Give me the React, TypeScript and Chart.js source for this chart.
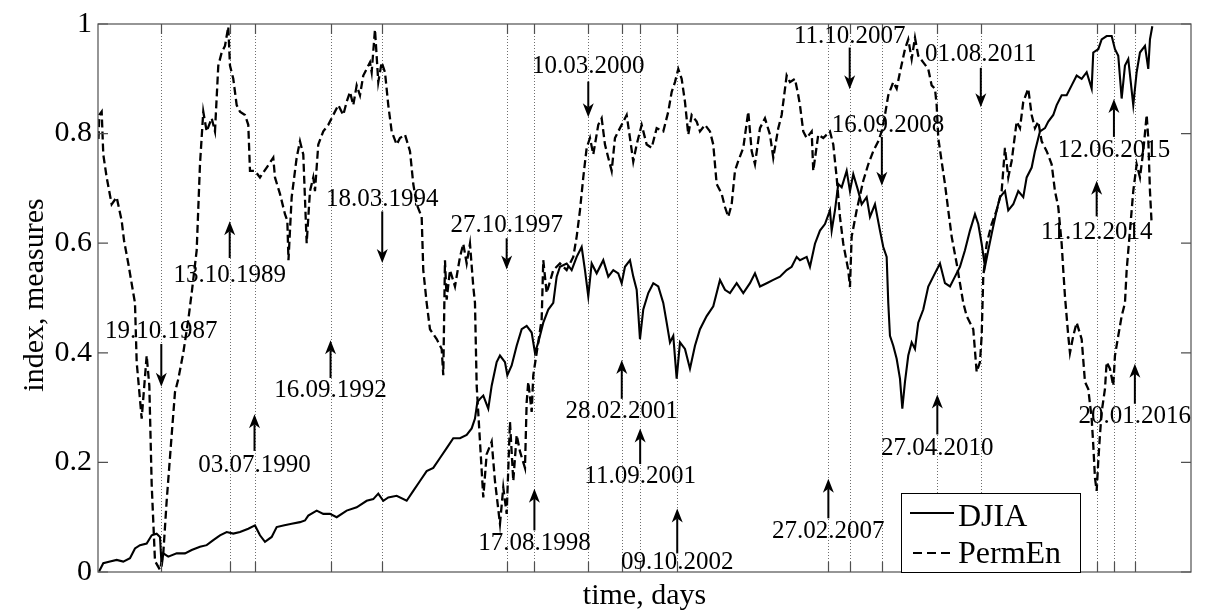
import React, { useEffect, useRef } from "react";
import { Chart, registerables } from "chart.js";

Chart.register(...registerables);

// ---- time axis (days since the first observation) ----
const START_UTC = Date.UTC(1985, 11, 17);
const X_MAX_DAYS = 11586;

// ---- y axis ticks ----
const yTicks = [0, 0.2, 0.4, 0.6, 0.8, 1];

// ---- DJIA (normalised) : [day, value] ----
const djia: number[][] = [
  [11,0.001],[56,0.016],[127,0.019],[198,0.022],[268,0.019],[339,0.025],[392,0.043],[445,0.049],[516,0.052],[569,0.067],
  [622,0.07],[657,0.064],[675,0.01],[692,0.034],[745,0.028],[834,0.034],[922,0.034],[993,0.04],[1081,0.046],[1152,0.049],
  [1222,0.058],[1293,0.067],[1364,0.073],[1434,0.07],[1505,0.073],[1593,0.079],[1664,0.085],[1717,0.067],[1770,0.055],[1841,0.064],
  [1894,0.082],[1964,0.085],[2053,0.088],[2141,0.091],[2194,0.094],[2229,0.103],[2318,0.112],[2388,0.106],[2459,0.106],[2530,0.1],
  [2636,0.112],[2742,0.118],[2848,0.13],[2918,0.133],[2971,0.143],[3024,0.13],[3077,0.136],[3166,0.139],[3272,0.13],[3342,0.148],
  [3413,0.166],[3484,0.184],[3554,0.19],[3625,0.208],[3696,0.226],[3766,0.244],[3837,0.244],[3908,0.25],[3961,0.262],[3996,0.28],
  [4021,0.31],[4049,0.316],[4084,0.322],[4137,0.298],[4173,0.34],[4226,0.383],[4261,0.395],[4314,0.383],[4339,0.359],[4385,0.377],
  [4438,0.413],[4491,0.443],[4544,0.449],[4597,0.437],[4632,0.4],[4667,0.419],[4720,0.455],[4773,0.479],[4826,0.491],[4862,0.539],
  [4897,0.557],[4968,0.563],[5021,0.551],[5074,0.575],[5127,0.593],[5162,0.551],[5197,0.503],[5233,0.563],[5286,0.545],[5356,0.569],
  [5409,0.539],[5462,0.551],[5515,0.545],[5551,0.527],[5586,0.557],[5639,0.569],[5674,0.539],[5710,0.515],[5727,0.473],[5745,0.425],
  [5780,0.479],[5833,0.509],[5886,0.527],[5939,0.521],[5992,0.491],[6028,0.455],[6063,0.419],[6098,0.431],[6134,0.353],[6169,0.419],
  [6222,0.407],[6275,0.371],[6328,0.413],[6381,0.443],[6452,0.467],[6522,0.485],[6593,0.533],[6646,0.515],[6699,0.509],[6770,0.527],
  [6840,0.509],[6911,0.527],[6964,0.545],[7017,0.521],[7088,0.527],[7158,0.533],[7229,0.539],[7300,0.551],[7353,0.557],[7406,0.575],
  [7441,0.569],[7512,0.575],[7547,0.557],[7600,0.599],[7653,0.623],[7706,0.635],[7759,0.66],[7777,0.623],[7812,0.66],[7847,0.708],
  [7883,0.702],[7936,0.732],[7971,0.695],[8006,0.726],[8059,0.695],[8095,0.671],[8148,0.684],[8183,0.648],[8236,0.671],[8289,0.623],
  [8324,0.593],[8360,0.575],[8377,0.491],[8395,0.431],[8430,0.413],[8466,0.389],[8501,0.353],[8526,0.298],[8554,0.347],[8589,0.395],
  [8625,0.419],[8660,0.407],[8695,0.455],[8748,0.479],[8801,0.521],[8854,0.539],[8925,0.563],[8978,0.527],[9031,0.521],[9084,0.539],
  [9137,0.557],[9190,0.587],[9243,0.623],[9296,0.653],[9331,0.635],[9367,0.599],[9402,0.557],[9437,0.587],[9473,0.617],[9526,0.66],
  [9561,0.684],[9614,0.695],[9649,0.66],[9702,0.671],[9755,0.695],[9808,0.684],[9844,0.72],[9897,0.738],[9932,0.768],[9985,0.804],
  [10038,0.81],[10073,0.822],[10126,0.834],[10162,0.852],[10215,0.87],[10268,0.87],[10321,0.888],[10374,0.906],[10427,0.9],[10480,0.912],
  [10533,0.882],[10550,0.948],[10603,0.954],[10639,0.972],[10692,0.978],[10745,0.978],[10780,0.954],[10815,0.942],[10851,0.864],[10886,0.924],
  [10921,0.936],[10974,0.852],[11010,0.912],[11045,0.948],[11098,0.96],[11133,0.918],[11151,0.972],[11176,0.996],
];

// ---- Permutation entropy measure : [day, value] ----
const permEn: number[][] = [
  [5,0.79],[14,0.834],[39,0.84],[56,0.762],[92,0.72],[145,0.671],[198,0.684],[251,0.641],[276,0.605],[321,0.563],
  [374,0.509],[392,0.491],[410,0.383],[463,0.28],[516,0.395],[544,0.34],[569,0.16],[604,0.02],[657,0.004],[692,0.034],
  [728,0.13],[781,0.25],[816,0.328],[851,0.352],[904,0.4],[957,0.46],[993,0.509],[1046,0.587],[1081,0.744],[1116,0.84],
  [1152,0.804],[1205,0.828],[1240,0.804],[1275,0.924],[1311,0.948],[1346,0.96],[1381,0.995],[1399,0.924],[1434,0.9],[1470,0.852],
  [1505,0.84],[1558,0.834],[1593,0.816],[1611,0.732],[1664,0.732],[1717,0.72],[1788,0.738],[1858,0.756],[1876,0.72],[1929,0.69],
  [1982,0.653],[2007,0.641],[2019,0.569],[2053,0.684],[2106,0.756],[2141,0.786],[2176,0.762],[2212,0.6],[2247,0.695],[2282,0.72],
  [2300,0.695],[2335,0.78],[2388,0.804],[2441,0.816],[2494,0.834],[2547,0.852],[2600,0.834],[2636,0.858],[2671,0.876],[2706,0.852],
  [2742,0.888],[2777,0.87],[2812,0.906],[2848,0.918],[2883,0.93],[2901,0.912],[2936,0.99],[2971,0.894],[3007,0.93],[3042,0.912],
  [3077,0.852],[3113,0.804],[3166,0.78],[3201,0.792],[3254,0.798],[3307,0.768],[3342,0.708],[3378,0.671],[3431,0.648],[3448,0.551],
  [3484,0.491],[3519,0.443],[3590,0.425],[3643,0.407],[3660,0.359],[3678,0.569],[3696,0.497],[3731,0.551],[3784,0.521],[3837,0.575],
  [3872,0.599],[3908,0.563],[3943,0.599],[3978,0.521],[3996,0.491],[4014,0.34],[4049,0.238],[4084,0.136],[4120,0.215],[4173,0.238],
  [4208,0.166],[4261,0.088],[4296,0.154],[4332,0.106],[4367,0.274],[4402,0.166],[4438,0.25],[4473,0.22],[4526,0.19],[4544,0.31],
  [4561,0.347],[4597,0.292],[4614,0.359],[4650,0.4],[4703,0.461],[4720,0.569],[4756,0.509],[4826,0.551],[4897,0.563],[4968,0.551],
  [5038,0.575],[5074,0.612],[5109,0.66],[5144,0.72],[5180,0.774],[5215,0.792],[5250,0.762],[5303,0.816],[5339,0.828],[5374,0.78],
  [5409,0.756],[5445,0.732],[5480,0.792],[5515,0.804],[5551,0.816],[5604,0.834],[5639,0.792],[5674,0.749],[5710,0.78],[5763,0.816],
  [5816,0.78],[5869,0.774],[5922,0.81],[5992,0.804],[6045,0.84],[6081,0.876],[6116,0.894],[6151,0.918],[6187,0.9],[6222,0.858],
  [6257,0.798],[6293,0.834],[6346,0.822],[6381,0.804],[6434,0.816],[6487,0.804],[6522,0.78],[6558,0.708],[6611,0.69],[6646,0.666],
  [6681,0.648],[6717,0.671],[6752,0.732],[6787,0.75],[6840,0.774],[6893,0.84],[6929,0.768],[6964,0.744],[7017,0.81],[7070,0.828],
  [7123,0.798],[7158,0.756],[7211,0.81],[7247,0.834],[7300,0.906],[7335,0.894],[7388,0.9],[7423,0.87],[7441,0.852],[7476,0.804],
  [7512,0.792],[7565,0.804],[7582,0.732],[7635,0.798],[7688,0.792],[7759,0.804],[7794,0.78],[7830,0.72],[7865,0.648],[7900,0.599],
  [7953,0.551],[7971,0.52],[7989,0.612],[8042,0.66],[8112,0.714],[8165,0.744],[8218,0.768],[8271,0.786],[8307,0.804],[8342,0.834],
  [8377,0.87],[8430,0.894],[8466,0.882],[8501,0.912],[8554,0.954],[8589,0.972],[8625,0.936],[8660,0.975],[8695,0.942],[8748,0.93],
  [8801,0.918],[8837,0.888],[8872,0.882],[8890,0.852],[8907,0.792],[8943,0.749],[8978,0.708],[9013,0.66],[9049,0.612],[9102,0.563],
  [9137,0.527],[9172,0.491],[9208,0.467],[9278,0.443],[9314,0.365],[9349,0.383],[9367,0.431],[9384,0.539],[9420,0.599],[9473,0.635],
  [9526,0.66],[9579,0.695],[9614,0.774],[9649,0.72],[9685,0.75],[9738,0.822],[9773,0.81],[9808,0.858],[9861,0.882],[9897,0.834],
  [9932,0.81],[9967,0.822],[10003,0.786],[10056,0.768],[10109,0.744],[10144,0.695],[10179,0.666],[10215,0.599],[10232,0.551],[10250,0.503],
  [10285,0.431],[10303,0.4],[10338,0.431],[10374,0.455],[10427,0.425],[10462,0.347],[10497,0.334],[10533,0.28],[10550,0.232],[10568,0.172],
  [10586,0.148],[10603,0.202],[10621,0.25],[10639,0.292],[10674,0.334],[10692,0.383],[10727,0.371],[10762,0.34],[10780,0.395],[10815,0.431],
  [10851,0.467],[10886,0.491],[10904,0.551],[10939,0.623],[10974,0.695],[11010,0.744],[11045,0.72],[11080,0.768],[11116,0.834],[11133,0.792],
  [11151,0.695],[11169,0.635],
];

// ---- event dates (x ticks / dotted lines) ----
const eventDates = [
  "19.10.1987", "13.10.1989", "03.07.1990", "16.09.1992", "18.03.1994",
  "27.10.1997", "17.08.1998", "10.03.2000", "28.02.2001", "11.09.2001",
  "09.10.2002", "27.02.2007", "11.10.2007", "16.09.2008", "27.04.2010",
  "01.08.2011", "11.12.2014", "12.06.2015", "20.01.2016",
];

// ---- annotation layout (y in data units; text offset in days) ----
const annotationLayout = [
  { date: "19.10.1987", textY: 0.439, fromY: 0.416, toY: 0.338, dxDays: 0 },
  { date: "13.10.1989", textY: 0.542, fromY: 0.573, toY: 0.640, dxDays: 0 },
  { date: "03.07.1990", textY: 0.195, fromY: 0.221, toY: 0.288, dxDays: 0 },
  { date: "16.09.1992", textY: 0.331, fromY: 0.354, toY: 0.423, dxDays: 0 },
  { date: "18.03.1994", textY: 0.680, fromY: 0.658, toY: 0.564, dxDays: 0 },
  { date: "27.10.1997", textY: 0.633, fromY: 0.609, toY: 0.552, dxDays: 0 },
  { date: "17.08.1998", textY: 0.052, fromY: 0.076, toY: 0.152, dxDays: 0 },
  { date: "10.03.2000", textY: 0.922, fromY: 0.895, toY: 0.830, dxDays: 0 },
  { date: "28.02.2001", textY: 0.293, fromY: 0.316, toY: 0.387, dxDays: 0 },
  { date: "11.09.2001", textY: 0.175, fromY: 0.197, toY: 0.262, dxDays: 0 },
  { date: "09.10.2002", textY: 0.018, fromY: 0.034, toY: 0.116, dxDays: 0 },
  { date: "27.02.2007", textY: 0.074, fromY: 0.098, toY: 0.170, dxDays: 0 },
  { date: "11.10.2007", textY: 0.978, fromY: 0.957, toY: 0.881, dxDays: 0 },
  { date: "16.09.2008", textY: 0.814, fromY: 0.794, toY: 0.705, dxDays: 64 },
  { date: "27.04.2010", textY: 0.226, fromY: 0.251, toY: 0.324, dxDays: 0 },
  { date: "01.08.2011", textY: 0.944, fromY: 0.920, toY: 0.848, dxDays: 0 },
  { date: "11.12.2014", textY: 0.620, fromY: 0.649, toY: 0.714, dxDays: 0 },
  { date: "12.06.2015", textY: 0.769, fromY: 0.794, toY: 0.863, dxDays: 0 },
  { date: "20.01.2016", textY: 0.284, fromY: 0.307, toY: 0.380, dxDays: 0 },
];

const seriesLabels = ["DJIA", "PermEn"];

const SERIF = "'Liberation Serif', 'Times New Roman', serif";

function dayOf(s: string): number {
  const [d, m, y] = s.split(".").map(Number);
  return (Date.UTC(y, m - 1, d) - START_UTC) / 86400000;
}

function drawArrow(ctx: CanvasRenderingContext2D, x: number, y0: number, y1: number) {
  const dir = y1 > y0 ? 1 : -1;
  const headLen = 14;
  const halfW = 5.5;
  ctx.lineWidth = 2;
  ctx.setLineDash([]);
  ctx.beginPath();
  ctx.moveTo(x, y0);
  ctx.lineTo(x, y1 - dir * (headLen - 4));
  ctx.stroke();
  ctx.beginPath();
  ctx.moveTo(x, y1);
  ctx.lineTo(x - halfW, y1 - dir * headLen);
  ctx.lineTo(x, y1 - dir * (headLen - 4));
  ctx.lineTo(x + halfW, y1 - dir * headLen);
  ctx.closePath();
  ctx.fill();
}

const overlayPlugin = {
  id: "overlay",
  beforeDatasetsDraw(chart: any) {
    const { ctx, chartArea: a, scales } = chart;
    const x = scales.x;
    ctx.save();
    ctx.strokeStyle = "#6e6e6e";
    ctx.lineWidth = 1;
    ctx.setLineDash([1, 2]);
    for (const d of eventDates) {
      const px = Math.round(x.getPixelForValue(dayOf(d))) + 0.5;
      ctx.beginPath();
      ctx.moveTo(px, a.top);
      ctx.lineTo(px, a.bottom);
      ctx.stroke();
    }
    ctx.restore();
  },
  afterDatasetsDraw(chart: any) {
    const { ctx, chartArea: a, scales } = chart;
    const x = scales.x;
    const y = scales.y;
    ctx.save();

    // frame
    ctx.setLineDash([]);
    ctx.strokeStyle = "#505050";
    ctx.lineWidth = 1.2;
    ctx.strokeRect(a.left, a.top, a.right - a.left, a.bottom - a.top);

    // inward tick marks
    const tl = 10;
    ctx.beginPath();
    for (const v of yTicks) {
      const py = y.getPixelForValue(v);
      ctx.moveTo(a.left, py);
      ctx.lineTo(a.left + tl, py);
      ctx.moveTo(a.right, py);
      ctx.lineTo(a.right - tl, py);
    }
    for (const d of eventDates) {
      const px = Math.round(x.getPixelForValue(dayOf(d))) + 0.5;
      ctx.moveTo(px, a.bottom);
      ctx.lineTo(px, a.bottom - tl);
      ctx.moveTo(px, a.top);
      ctx.lineTo(px, a.top + tl);
    }
    ctx.stroke();

    // annotations
    ctx.fillStyle = "#000";
    ctx.strokeStyle = "#000";
    ctx.font = `25px ${SERIF}`;
    ctx.textAlign = "center";
    ctx.textBaseline = "middle";
    for (const an of annotationLayout) {
      const day = dayOf(an.date);
      const px = x.getPixelForValue(day);
      drawArrow(ctx, px, y.getPixelForValue(an.fromY), y.getPixelForValue(an.toY));
      ctx.fillText(an.date, x.getPixelForValue(day + an.dxDays), y.getPixelForValue(an.textY));
    }

    // legend box
    const lx0 = a.right - 290;
    const lx1 = a.right - 111;
    const ly0 = a.bottom - 79;
    const ly1 = a.bottom;
    ctx.fillStyle = "#fff";
    ctx.fillRect(lx0, ly0, lx1 - lx0, ly1 - ly0);
    ctx.strokeStyle = "#000";
    ctx.lineWidth = 1;
    ctx.strokeRect(lx0 + 0.5, ly0 + 0.5, lx1 - lx0, ly1 - ly0);
    ctx.lineWidth = 2;
    ctx.beginPath();
    ctx.moveTo(lx0 + 9, ly0 + 20);
    ctx.lineTo(lx0 + 53, ly0 + 20);
    ctx.stroke();
    ctx.setLineDash([9, 5]);
    ctx.beginPath();
    ctx.moveTo(lx0 + 12, ly0 + 60);
    ctx.lineTo(lx0 + 54, ly0 + 60);
    ctx.stroke();
    ctx.setLineDash([]);
    ctx.fillStyle = "#000";
    ctx.font = `32px ${SERIF}`;
    ctx.textAlign = "left";
    ctx.textBaseline = "alphabetic";
    ctx.fillText(seriesLabels[0], lx0 + 57, ly0 + 33);
    ctx.fillText(seriesLabels[1], lx0 + 57, ly0 + 70);

    // axis titles
    ctx.font = `30px ${SERIF}`;
    ctx.textAlign = "center";
    ctx.textBaseline = "alphabetic";
    ctx.fillText("time, days", (a.left + a.right) / 2, a.bottom + 32);
    ctx.translate(43, (a.top + a.bottom) / 2 - 3);
    ctx.rotate(-Math.PI / 2);
    ctx.fillText("index, measures", 0, 0);

    ctx.restore();
  },
};

export default function App() {
  const canvasRef = useRef<HTMLCanvasElement | null>(null);

  useEffect(() => {
    document.body.style.margin = "0";
    document.body.style.background = "#fff";
    const canvas = canvasRef.current;
    if (!canvas) return;
    const chart = new Chart(canvas, {
      type: "line",
      data: {
        datasets: [
          {
            label: seriesLabels[0],
            data: djia.map(([d, v]) => ({ x: d, y: v })),
            borderColor: "#000",
            borderWidth: 2.1,
            pointRadius: 0,
            tension: 0,
            fill: false,
          },
          {
            label: seriesLabels[1],
            data: permEn.map(([d, v]) => ({ x: d, y: v })),
            borderColor: "#000",
            borderWidth: 2.3,
            borderDash: [8, 4],
            pointRadius: 0,
            tension: 0,
            fill: false,
          },
        ],
      },
      options: {
        animation: false,
        responsive: false,
        devicePixelRatio: 1,
        layout: { padding: { top: 19, right: 14, left: 0, bottom: 0 } },
        plugins: { legend: { display: false }, tooltip: { enabled: false } },
        scales: {
          x: {
            type: "linear",
            min: 0,
            max: X_MAX_DAYS,
            ticks: { display: false },
            grid: { display: false, drawTicks: false },
            border: { display: false },
            afterFit: (s: any) => {
              s.height = 40;
            },
          },
          y: {
            min: 0,
            max: 1,
            afterBuildTicks: (s: any) => {
              s.ticks = yTicks.map((v) => ({ value: v }));
            },
            ticks: {
              font: { family: SERIF, size: 30 },
              color: "#000",
              padding: 6,
              callback: (v: any) => String(Math.round(Number(v) * 10) / 10),
            },
            grid: { display: false, drawTicks: false },
            border: { display: false },
            afterFit: (s: any) => {
              s.width = 98;
            },
          },
        },
      },
      plugins: [overlayPlugin],
    } as any);
    return () => chart.destroy();
  }, []);

  return (
    <div style={{ width: 1205, height: 612, background: "#fff" }}>
      <canvas ref={canvasRef} width={1205} height={612} style={{ display: "block" }} />
    </div>
  );
}
